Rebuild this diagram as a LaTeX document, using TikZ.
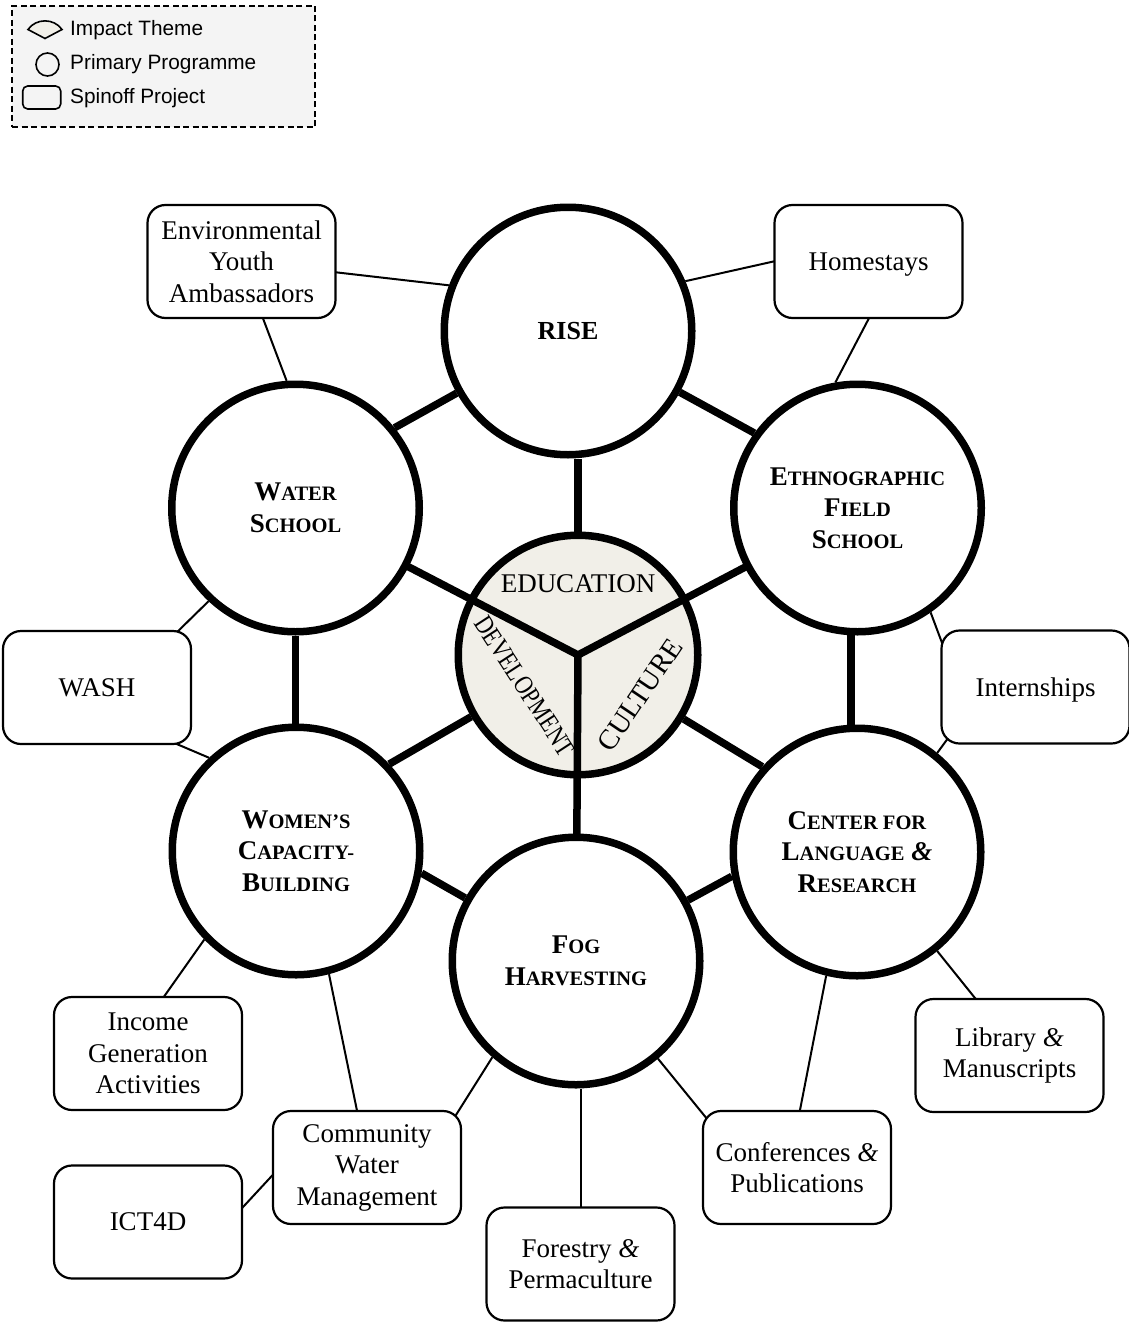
\documentclass[tikz,border=0pt]{standalone}
\usepackage{fontspec}
\usepackage{graphicx}
\setmainfont{Liberation Serif}
\newfontfamily\legendfont{Liberation Sans}
\pgfdeclarelayer{paper}
\pgfdeclarelayer{links}
\pgfsetlayers{paper,links,main}
\definecolor{hubfill}{RGB}{241,239,232}
\definecolor{legfill}{RGB}{244,244,244}
\newcommand{\CapSC}[2]{{\fontsize{27}{31.5}\selectfont #1}{\fontsize{20.5}{31.5}\selectfont #2}}
\newcommand{\fancyamp}{{\itshape\&}}
\begin{document}
\begin{tikzpicture}[x=1pt,y=-1pt,
  prog/.style={circle, draw, line width=7.5pt, minimum size=247.5pt, inner sep=0pt, fill=white, align=center, font=\bfseries\fontsize{27}{31.5}\selectfont},
  spin/.style={rectangle, rounded corners=18pt, draw, line width=2.2pt, minimum width=188pt, minimum height=113pt, inner sep=0pt, fill=white, align=center, font=\fontsize{27}{31.5}\selectfont},
  hubline/.style={line width=7.5pt},
  twig/.style={line width=2pt, shorten <=-8pt},
  legtext/.style={anchor=base west, inner sep=0pt, font=\legendfont\fontsize{20.8}{24}\selectfont},
]
\useasboundingbox (0,0) rectangle (1129,1322);
\begin{pgfonlayer}{paper}
\fill[white] (0,0) rectangle (1129,1322);
\end{pgfonlayer}

% legend
\node[draw, dash pattern=on 6pt off 3.5pt, line width=1.8pt, fill=legfill, minimum width=303pt, minimum height=121pt, inner sep=0pt] (legend) at (163.5,66.5) {};
\draw[line width=1.6pt, fill=hubfill] (28,29.5) .. controls (36,18) and (54,18) .. (62,29.5) -- (45,38.5) -- cycle;
\node[circle, draw, line width=1.6pt, minimum size=23pt, inner sep=0pt] (legcirc) at (47.5,64.5) {};
\node[draw, rounded corners=5pt, line width=1.6pt, minimum width=38pt, minimum height=23pt, inner sep=0pt] (legrect) at (41.7,97.5) {};
\node[legtext] (lt1) at (70,36) {Impact Theme};
\node[legtext] (lt2) at (70,70) {Primary Programme};
\node[legtext] (lt3) at (70,103) {Spinoff Project};

% primary programmes
\node[prog] (rise) at (568,331) {{\fontsize{26}{31.5}\selectfont RISE}};
\node[prog] (ws) at (295.5,508) {\CapSC{W}{ATER}\\\CapSC{S}{CHOOL}};
\node[prog] (ethno) at (857.5,508) {\CapSC{E}{THNOGRAPHIC}\\\CapSC{F}{IELD}\\\CapSC{S}{CHOOL}};
\node[prog] (wom) at (296,851) {\CapSC{W}{OMEN’S}\\\CapSC{C}{APACITY-}\\\CapSC{B}{UILDING}};
\node[prog] (clr) at (857,852) {\CapSC{C}{ENTER FOR}\\\CapSC{L}{ANGUAGE}~{\fontsize{27}{31.5}\selectfont\fancyamp}\\\CapSC{R}{ESEARCH}};
\node[prog] (fog) at (576,961) {\CapSC{F}{OG}\\\CapSC{H}{ARVESTING}};

% hub
\node[circle, draw, line width=7.5pt, minimum size=239.5pt, inner sep=0pt, fill=hubfill] (hub) at (578,655) {};
\coordinate (yc) at (578,655);
\node[font=\fontsize{27}{30}\selectfont, inner sep=0pt] (edu) at (578,584) {EDUCATION};
\node[font=\fontsize{27}{30}\selectfont, inner sep=0pt, rotate=-57] (dev) at (524.5,686) {\scalebox{0.81}[1]{DEVELOPMENT}};
\node[font=\fontsize{28.5}{30}\selectfont, inner sep=0pt, rotate=56] (cul) at (640,695) {CULTURE};

% spinoff projects
\node[spin] (eya) at (241.5,261.5) {Environmental\\Youth\\Ambassadors};
\node[spin, text depth=0pt] (hs) at (868.5,261.5) {Homestays};
\node[spin] (wash) at (97,687.5) {WASH};
\node[spin, text depth=0pt] (intern) at (1035.5,687) {Internships};
\node[spin] (iga) at (148,1053.5) {Income\\Generation\\Activities};
\node[spin] (cwm) at (367,1167.5) {Community\\Water\\Management};
\node[spin] (ict) at (148,1222) {ICT4D};
\node[spin] (fp) at (580.5,1264) {Forestry \fancyamp\\Permaculture};
\node[spin] (conf) at (797,1167.5) {Conferences \fancyamp\\Publications};
\node[spin] (lib) at (1009.5,1055.5) {Library \fancyamp\\Manuscripts};

% thick links
\draw[hubline] (rise) -- (ws.39);
\draw[hubline] (rise) -- (ethno.144);
\draw[hubline] (hub) -- (wom.43);
\draw[hubline] (hub) -- (clr.138);
\draw[hubline] (fog) -- (wom.-10);
\draw[hubline] (fog) -- (clr.191);
\draw[hubline] (hub.north) -- (hub.north |- rise.south);
\draw[hubline] (ws.south) -- (ws.south |- wom.north);
\draw[hubline] (ethno.267) -- (ethno.267 |- clr.north);
\draw[hubline, line cap=round] (yc) -- (ws);
\draw[hubline, line cap=round] (yc) -- (ethno);
\draw[hubline, line cap=round] (yc) -- (fog);

% thin links
\begin{pgfonlayer}{links}
\draw[twig] (eya) -- (rise.159);
\draw[twig] (eya) -- (ws.94);
\draw[twig] (hs.west) -- (rise.23);
\draw[twig] (hs.south) -- (ethno.100);
\draw[twig] (wash.35) -- (ws.227);
\draw[twig] (wash.-35) -- (wom.133);
\draw[twig] (intern.153) -- (ethno.-55);
\draw[twig] (intern.212) -- (clr.51);
\draw[twig] (iga.74) -- (wom.224);
\draw[twig] (cwm.100) -- (wom.-75);
\draw[twig] (cwm.32) -- (fog.229);
\draw[twig, shorten >=-8pt] (ict.9) -- (cwm.185);
\draw[twig] (fp.north) -- (fp.north |- fog.south);
\draw[twig] (conf.150) -- (fog.-50);
\draw[twig] (conf.87) -- (clr.256);
\draw[twig] (lib.121) -- (clr.-51);
\end{pgfonlayer}
\end{tikzpicture}
\end{document}
